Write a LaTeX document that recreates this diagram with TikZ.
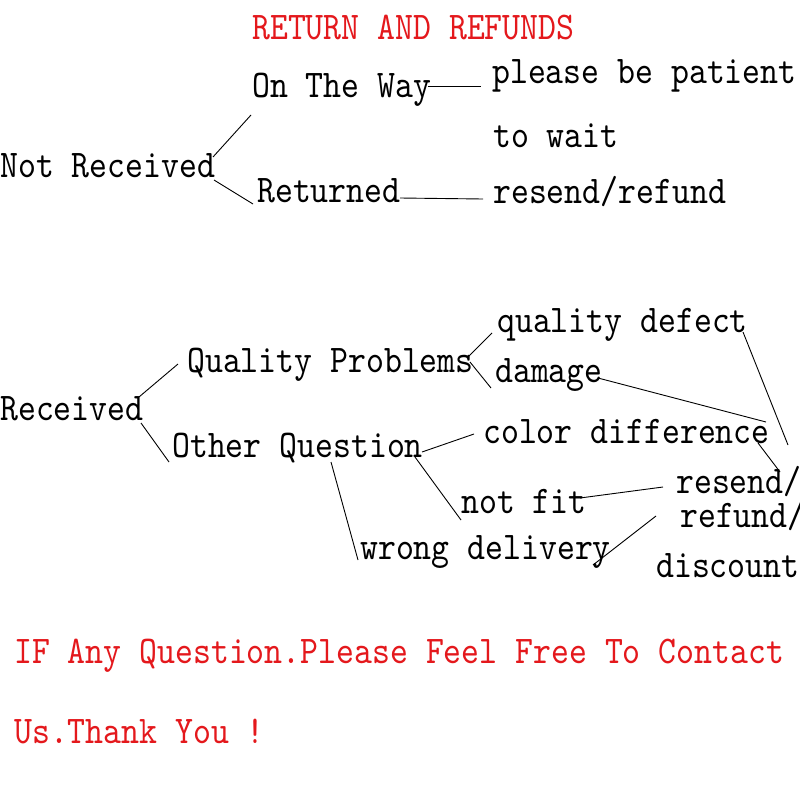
\documentclass[tikz,border=0pt]{standalone}
\usepackage{fontspec}
\newfontfamily\simf[Extension=.otf,FakeStretch=0.87]{lmmono10-regular}
\definecolor{tred}{RGB}{228,24,28}
\begin{document}
\begin{tikzpicture}[x=1pt,y=-1pt,
  lbl/.style={anchor=base west,inner sep=0pt,font=\simf\fontsize{39.2}{40}\selectfont},
  rlbl/.style={lbl,text=tred},
  conn/.style={line width=0.9pt,draw=black}]
\useasboundingbox[fill=white] (0,0) rectangle (800,800);
% top tree
\node[rlbl] (title) at (252,40) {RETURN AND REFUNDS};
\node[lbl] (otw) at (252,97) {On The Way};
\node[lbl] (pbp) at (492,83) {please be patient};
\node[lbl] (tw) at (493,147) {to wait};
\node[lbl] (rr) at (493,203) {resend/refund};
\node[lbl] (nr) at (0,177) {Not Received};
\node[lbl] (ret) at (257,202) {Returned};
% second tree
\node[lbl] (rec) at (0,420) {Received};
\node[lbl] (qp) at (187,372) {Quality Problems};
\node[lbl] (oq) at (172,457) {Other Question};
\node[lbl] (qd) at (497,332) {quality defect};
\node[lbl] (dm) at (495,382) {damage};
\node[lbl] (cd) at (483,443) {color difference};
\node[lbl] (nf) at (461,513) {not fit};
\node[lbl] (wd) at (360,559) {wrong delivery};
\node[lbl] (rs) at (676,493) {resend/};
\node[lbl] (rf) at (680,527) {refund/};
\node[lbl] (dc) at (656,577) {discount};
\coordinate (e1) at (766,422);
\coordinate (e2) at (788,445);
% contact
\node[rlbl] (c1) at (14,663) {IF Any Question.Please Feel Free To Contact};
\node[rlbl] (c2) at (14,743) {Us.Thank You !};
% connectors
\draw[conn] ([shift={(213,-20)}]nr.base west) -- ([shift={(-1,18)}]otw.base west);
\draw[conn] ([shift={(214,3)}]nr.base west) -- ([shift={(-4,2)}]ret.base west);
\draw[conn] ([shift={(176,-11)}]otw.base west) -- ([shift={(-11,3)}]pbp.base west);
\draw[conn] ([shift={(143,-4)}]ret.base west) -- ([shift={(-10,-4)}]rr.base west);
\draw[conn] ([shift={(139,-23)}]rec.base west) -- ([shift={(-9,-8)}]qp.base west);
\draw[conn] ([shift={(141,3)}]rec.base west) -- ([shift={(-3,5)}]oq.base west);
\draw[conn] ([shift={(159,5)}]oq.base west) -- ([shift={(-2,1)}]wd.base west);
\draw[conn] ([shift={(281,-15)}]qp.base west) -- ([shift={(-5,1)}]qd.base west);
\draw[conn] ([shift={(283,-10)}]qp.base west) -- ([shift={(-4,6)}]dm.base west);
\draw[conn] ([shift={(250,-5)}]oq.base west) -- ([shift={(-9,-9)}]cd.base west);
\draw[conn] ([shift={(243,0)}]oq.base west) -- ([shift={(0,7)}]nf.base west);
\draw[conn] ([shift={(103,-4)}]dm.base west) -- (e1);
\draw[conn] ([shift={(246,0)}]qd.base west) -- (e2);
\draw[conn] ([shift={(275,0)}]cd.base west) -- ([shift={(104,-21)}]rs.base west);
\draw[conn] ([shift={(119,-15)}]nf.base west) -- ([shift={(-13,-6)}]rs.base west);
\draw[conn] ([shift={(233,6)}]wd.base west) -- ([shift={(-24,-11)}]rf.base west);
\end{tikzpicture}
\end{document}
